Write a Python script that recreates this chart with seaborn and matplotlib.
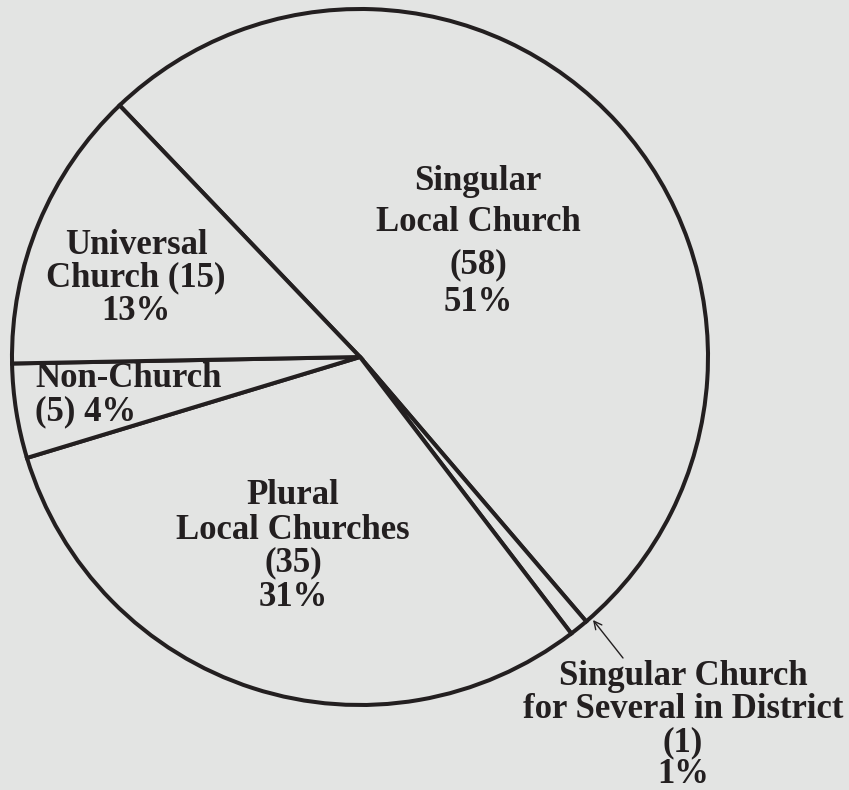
import matplotlib
matplotlib.use("Agg")
import matplotlib.pyplot as plt
import seaborn as sns

# Survey responses by view of the church
categories = [
    "Singular Local Church",
    "Singular Church for Several in District",
    "Plural Local Churches",
    "Non-Church",
    "Universal Church",
]
counts = [58, 1, 35, 5, 15]
percents = [51, 1, 31, 4, 13]

BG = "#e3e4e3"
INK = "#231f20"
W, H = 849, 790

sns.set_theme(style="white")
plt.rcParams["font.family"] = ["Liberation Serif", "DejaVu Serif"]

fig = plt.figure(figsize=(W / 100, H / 100), dpi=100, facecolor=BG)
ax = fig.add_axes([0, 0, 1, 1])
ax.set_facecolor(BG)

cx, cy, r = 360, H - 357, 348
ax.pie(
    counts,
    center=(cx, cy),
    radius=r,
    startangle=133.7,
    counterclock=False,
    colors=[BG] * len(counts),
    wedgeprops=dict(edgecolor=INK, linewidth=2.9),
    frame=True,
)
ax.set_xlim(0, W)
ax.set_ylim(0, H)
ax.set_aspect("equal")
ax.axis("off")


def label_lines(lines, x, baselines, ha="center"):
    for line, yb in zip(lines, baselines):
        ax.text(x, H - yb, line, ha=ha, va="baseline", fontsize=25,
                fontweight="bold", color=INK)


c = dict(zip(categories, zip(counts, percents)))

n, p = c["Singular Local Church"]
label_lines(["Singular", "Local Church", f"({n})", f"{p}%"], 478, [190, 231, 273, 311])

n, p = c["Universal Church"]
label_lines(["Universal", f"Church ({n})", f"{p}%"], 136, [254, 286, 320])

n, p = c["Non-Church"]
label_lines(["Non-Church", f"({n}) {p}%"], 35, [387, 420], ha="left")

n, p = c["Plural Local Churches"]
label_lines(["Plural", "Local Churches", f"({n})", f"{p}%"], 293, [504, 539, 571, 606])

n, p = c["Singular Church for Several in District"]
label_lines(["Singular Church", "for Several in District", f"({n})", f"{p}%"],
            683, [685, 718, 751, 783])

# pointer to the thin wedge
ax.annotate("", xy=(593, H - 620), xytext=(623, H - 658),
            arrowprops=dict(arrowstyle="->", color=INK, lw=1.0,
                            mutation_scale=14, shrinkA=0, shrinkB=0))

fig.savefig("out.png", dpi=100, facecolor=BG)
